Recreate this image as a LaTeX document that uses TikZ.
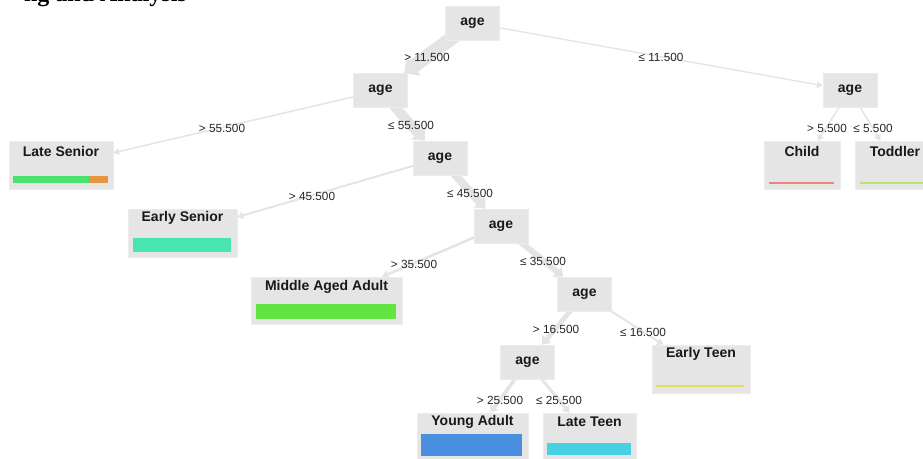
\documentclass[tikz,border=0pt]{standalone}
\usepackage{fontspec}
\setmainfont{Liberation Sans}
\newfontfamily\titlefont{Liberation Serif}
\usetikzlibrary{arrows.meta}
\pgfdeclarelayer{background}
\pgfsetlayers{background,main}
\definecolor{boxgray}{RGB}{229,229,229}
\definecolor{boxedge}{RGB}{236,236,236}
\definecolor{edgegray}{RGB}{228,228,228}
\definecolor{lsgreen}{RGB}{72,227,108}
\definecolor{lsorange}{RGB}{232,149,63}
\definecolor{esgreen}{RGB}{72,229,176}
\definecolor{maagreen}{RGB}{99,229,65}
\definecolor{yablue}{RGB}{74,142,224}
\definecolor{ltcyan}{RGB}{72,209,226}
\definecolor{chred}{RGB}{232,136,122}
\definecolor{tdgreen}{RGB}{183,226,107}
\definecolor{etyellow}{RGB}{230,220,92}
\begin{document}
\begin{tikzpicture}[x=1pt,y=-1pt,
  inner/.style={fill=boxgray, draw=boxedge, line width=0.6pt, minimum width=54pt, minimum height=34pt, inner sep=0pt, font=\bfseries\fontsize{14}{16}\selectfont, text=black!90},
  leaf/.style={fill=boxgray, draw=boxedge, line width=0.6pt, inner sep=0pt, minimum height=48pt},
  ttl/.style={font=\bfseries\fontsize{14}{16}\selectfont, text=black!90, inner sep=0pt},
  lbl/.style={font=\fontsize{11.8}{13}\selectfont, inner sep=0pt, text=black!85},
  conn/.style={draw=edgegray, line width=#1, -{Triangle[length=5pt 0.5, width=5pt 1.3]}}
]
\useasboundingbox (0,0) rectangle (923,458);

\node[font=\titlefont\bfseries\fontsize{24}{26}\selectfont, anchor=base east, inner sep=0pt] (title) at (187,1) {ng and Analysis};

% internal nodes
\node[inner] (root) at (472.5,23) {age};
\node[inner] (l1) at (380.5,90.5) {age};
\node[inner] (r1) at (850,90.5) {age};
\node[inner] (l2) at (440,158) {age};
\node[inner] (l3) at (501,226) {age};
\node[inner] (l4) at (584.5,294) {age};
\node[inner] (l5) at (527.5,362) {age};

% leaves
\node[leaf, minimum width=104pt] (ls) at (61,165) {};
\node[ttl] (lsT) at (61,151) {Late Senior};
\fill[lsgreen] (13,176) rectangle (89,183);
\fill[lsorange] (89,176) rectangle (108,183);

\node[leaf, minimum width=76pt] (ch) at (802,165) {};
\node[ttl] (chT) at (802,151) {Child};
\fill[chred] (769,182.2) rectangle (834,183.8);

\node[leaf, minimum width=80pt] (td) at (895,165) {};
\node[ttl] (tdT) at (895,151) {Toddler};
\fill[tdgreen] (860,182.2) rectangle (930,183.8);

\node[leaf, minimum width=109pt] (es) at (182.5,233) {};
\node[ttl] (esT) at (182.5,218) {Early Senior};
\fill[esgreen] (133,238) rectangle (231,252);

\node[leaf, minimum width=151pt, minimum height=47pt] (maa) at (326.5,300.5) {};
\node[ttl] (maaT) at (326.5,287) {Middle Aged Adult};
\fill[maagreen] (256,304) rectangle (396,319);

\node[leaf, minimum width=98pt] (et) at (701,369) {};
\node[ttl] (etT) at (701,354) {Early Teen};
\fill[etyellow] (656,385.2) rectangle (744,386.8);

\node[leaf, minimum width=111pt] (ya) at (472.5,437) {};
\node[ttl] (yaT) at (472.5,422) {Young Adult};
\fill[yablue] (421,434) rectangle (522,456);

\node[leaf, minimum width=93pt] (lt) at (589.5,437) {};
\node[ttl] (ltT) at (589.5,422) {Late Teen};
\fill[ltcyan] (547,443) rectangle (631,455);

% connectors
\begin{pgfonlayer}{background}
\draw[conn=14pt] (root.center) -- (l1);
\draw[conn=1.3pt] (root.center) -- (r1);
\draw[conn=1.5pt] (l1.center) -- (ls);
\draw[conn=10pt] (l1.center) -- (l2);
\draw[conn=2pt] (l2.center) -- (es);
\draw[conn=8pt] (l2.center) -- (l3);
\draw[conn=2.5pt] (l3.center) -- (maa);
\draw[conn=6pt] (l3.center) -- (l4);
\draw[conn=5pt] (l4.center) -- (l5);
\draw[conn=2pt] (l4.center) -- (et);
\draw[conn=3.5pt] (l5.center) -- (ya);
\draw[conn=3pt] (l5.center) -- (lt);
\draw[conn=1.5pt] (r1.center) -- (ch);
\draw[conn=1.5pt] (r1.center) -- (td);
\end{pgfonlayer}

% edge labels
\node[lbl] (e1) at (427,57) {> 11.500};
\node[lbl] (e2) at (661,57) {≤ 11.500};
\node[lbl] (e3) at (222,128) {> 55.500};
\node[lbl] (e4) at (411,125) {≤ 55.500};
\node[lbl] (e5) at (312,196) {> 45.500};
\node[lbl] (e6) at (470,193) {≤ 45.500};
\node[lbl] (e7) at (414,264) {> 35.500};
\node[lbl] (e8) at (543,261) {≤ 35.500};
\node[lbl] (e9) at (556,329) {> 16.500};
\node[lbl] (e10) at (643,332) {≤ 16.500};
\node[lbl] (e11) at (500,400) {> 25.500};
\node[lbl] (e12) at (559,400) {≤ 25.500};
\node[lbl] (e13) at (827,128) {> 5.500};
\node[lbl] (e14) at (873,128) {≤ 5.500};
\end{tikzpicture}
\end{document}
